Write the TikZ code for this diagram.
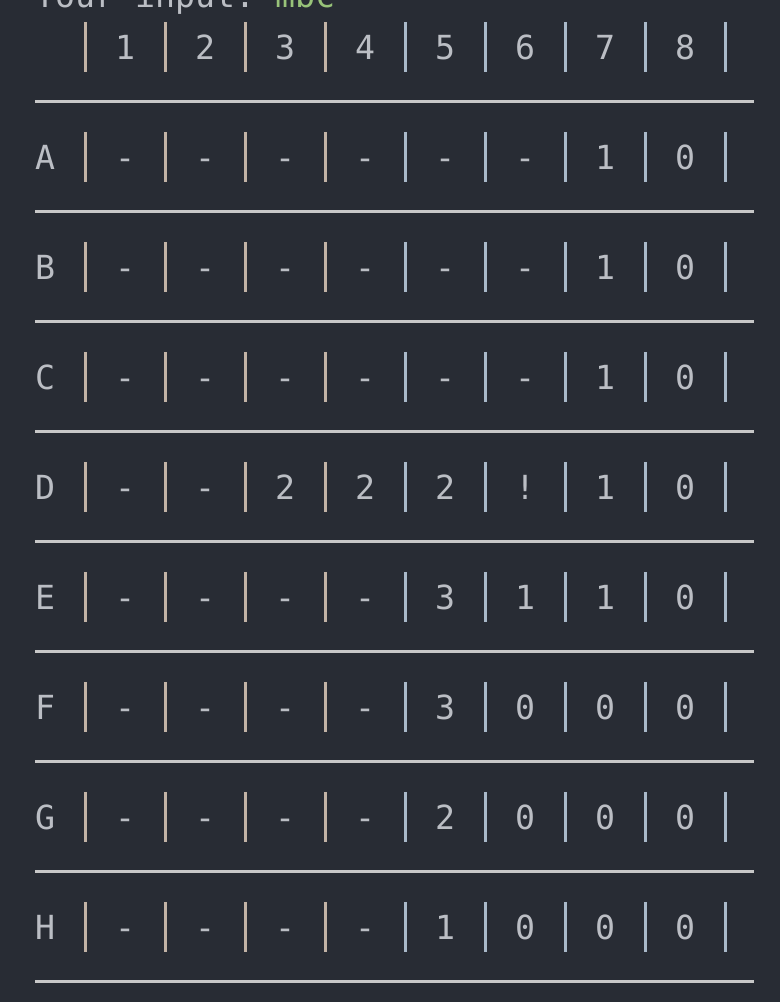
\documentclass[tikz,border=0pt]{standalone}
\usepackage{fontspec}
\setmonofont{DejaVu Sans Mono}

\definecolor{bgdark}{HTML}{282C34}
\definecolor{txtgray}{HTML}{BBBEC4}
\definecolor{rulegray}{HTML}{C8C8C8}
\definecolor{bartan}{HTML}{C2B3A6}
\definecolor{barblue}{HTML}{A9B9C9}
\definecolor{inputgreen}{HTML}{98C379}

\newcommand{\gridfont}{\ttfamily\fontsize{33.2}{40}\selectfont}

\tikzset{
  cell/.style={text=txtgray, font=\gridfont, inner sep=0pt, text height=24pt, text depth=0pt},
  rowrule/.style={rulegray, line width=3pt},
  sepbar/.style={line width=3pt},
}

\begin{document}
\begin{tikzpicture}[x=1pt, y=-1pt]
    % Background and frame
    \fill[bgdark] (0,0) rectangle (780,1002);
    \useasboundingbox (0,0) rectangle (780,1002);
    \clip (0,0) rectangle (780,1002);

    % Prompt line (cut at the top)
    \node[cell, anchor=base west, text height=] (prompt) at (35,7) {Your input: \textcolor{inputgreen}{mbc}};

    % Header with the column numbers
    \foreach \c in {1,...,8}
        \node[cell] (h\c) at ({45+80*\c},47) {\c};

    % Rows of the table
    \foreach \lbl/\vals [count=\r] in {
        A/{-,-,-,-,-,-,1,0},
        B/{-,-,-,-,-,-,1,0},
        C/{-,-,-,-,-,-,1,0},
        D/{-,-,2,2,2,!,1,0},
        E/{-,-,-,-,3,1,1,0},
        F/{-,-,-,-,3,0,0,0},
        G/{-,-,-,-,2,0,0,0},
        H/{-,-,-,-,1,0,0,0}} {
        \node[cell] (\lbl) at (45,{47+110*\r}) {\lbl};
        \foreach \v [count=\c] in \vals
            \node[cell] (\lbl\c) at ({45+80*\c},{47+110*\r}) {\v};
    }

    % Separator bars in every row
    \foreach \r in {0,...,8} {
        \foreach \k in {0,...,3}
            \draw[sepbar, bartan] ({85+80*\k},{22+110*\r}) -- ++(0,50);
        \foreach \k in {4,...,8}
            \draw[sepbar, barblue] ({85+80*\k},{22+110*\r}) -- ++(0,50);
    }

    % Horizontal rules under each row
    \foreach \r in {0,...,8}
        \draw[rowrule] (35,{101+110*\r}) -- (754,{101+110*\r});
\end{tikzpicture}
\end{document}
